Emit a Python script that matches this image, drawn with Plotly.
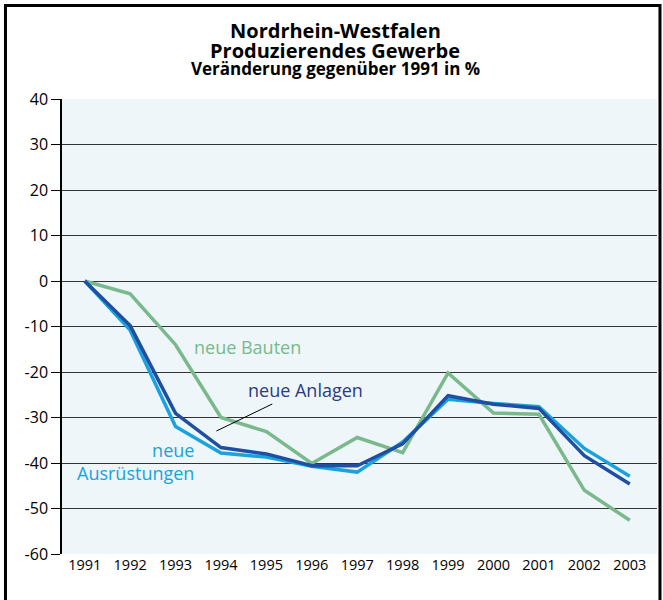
import plotly.graph_objects as go

years = list(range(1991, 2004))
anlagen = [0, -9.8, -29.1, -36.6, -38.0, -40.6, -40.6, -35.8, -25.2, -27.1, -28.0, -38.4, -44.6]
ausruestungen = [0, -10.8, -32.0, -37.8, -38.7, -40.7, -42.0, -35.4, -26.0, -26.9, -27.6, -36.8, -42.9]
bauten = [0, -2.8, -14.0, -30.0, -33.1, -40.1, -34.4, -37.7, -20.2, -29.0, -29.3, -46.0, -52.6]
ytick_vals = list(range(-60, 50, 10))
ytick_text = [str(v) for v in ytick_vals]

c_anl = "#1f4fa0"
c_aus = "#19a2dd"
c_bau = "#79b98b"
font = "Open Sans, Lato, DejaVu Sans, sans-serif"

fig = go.Figure()
fig.add_trace(go.Scatter(x=years, y=bauten, mode="lines", line=dict(color=c_bau, width=3.5), name="neue Bauten"))
fig.add_trace(go.Scatter(x=years, y=ausruestungen, mode="lines", line=dict(color=c_aus, width=3.5), name="neue Ausrüstungen"))
fig.add_trace(go.Scatter(x=years, y=anlagen, mode="lines", line=dict(color=c_anl, width=3.5), name="neue Anlagen"))

fig.update_layout(
    width=663, height=600,
    margin=dict(l=62, r=6, t=99, b=46, autoexpand=False),
    paper_bgcolor="white",
    plot_bgcolor="#eef6fa",
    showlegend=False,
    font=dict(family=font, color="black"),
    xaxis=dict(
        range=[1990.5, 2003.6], tickvals=years, ticktext=[str(y) for y in years],
        showgrid=False, zeroline=False, showline=False, ticks="", automargin=False,
        tickfont=dict(size=14.5, family=font, weight=500), fixedrange=True,
    ),
    yaxis=dict(
        range=[-60, 40], tickvals=ytick_vals, ticktext=ytick_text,
        showgrid=True, gridcolor="#333333", gridwidth=1, automargin=False,
        zeroline=False, showline=True, linecolor="black", linewidth=1.5,
        ticks="outside", ticklen=9, tickcolor="black", tickwidth=1.2,
        tickfont=dict(size=16, family=font, weight=500), fixedrange=True,
    ),
)

# title lines
title_lines = [("Nordrhein-Westfalen", 20, 1.1516),
               ("Produzierendes Gewerbe", 20, 1.1055),
               ("Veränderung gegenüber 1991 in %", 17, 1.067)]
for txt, sz, yp in title_lines:
    fig.add_annotation(xref="paper", yref="paper", x=0.459, y=yp, text="<b>" + txt + "</b>",
                       showarrow=False, xanchor="center", yanchor="middle",
                       font=dict(size=sz, color="black", family=font))

fig.add_annotation(x=1994.58, y=-14.5, text="neue Bauten", showarrow=False,
                   font=dict(size=18, color=c_bau, family=font), xanchor="center", yanchor="middle")
fig.add_annotation(x=1995.86, y=-24.0, text="neue Anlagen", showarrow=False,
                   font=dict(size=18, color="#2a3c80", family=font), xanchor="center", yanchor="middle")
fig.add_annotation(x=1993.45, y=-39.6, text="neue<br>Ausrüstungen", showarrow=False, align="right",
                   font=dict(size=18, color=c_aus, family=font), xanchor="right", yanchor="middle")
fig.add_shape(type="line", xref="x", yref="y", x0=1993.90, y0=-32.97, x1=1995.13, y1=-27.03,
              line=dict(color="black", width=1))

# outer frame
fig.add_shape(type="rect", xref="paper", yref="paper", x0=-0.095, x1=1.005, y0=-0.123, y1=1.2055,
              line=dict(color="black", width=3), fillcolor="rgba(0,0,0,0)", layer="above")

fig.write_html("out.html", config={"displayModeBar": False},
               post_script="document.body.style.margin='0';document.body.style.padding='0';")
